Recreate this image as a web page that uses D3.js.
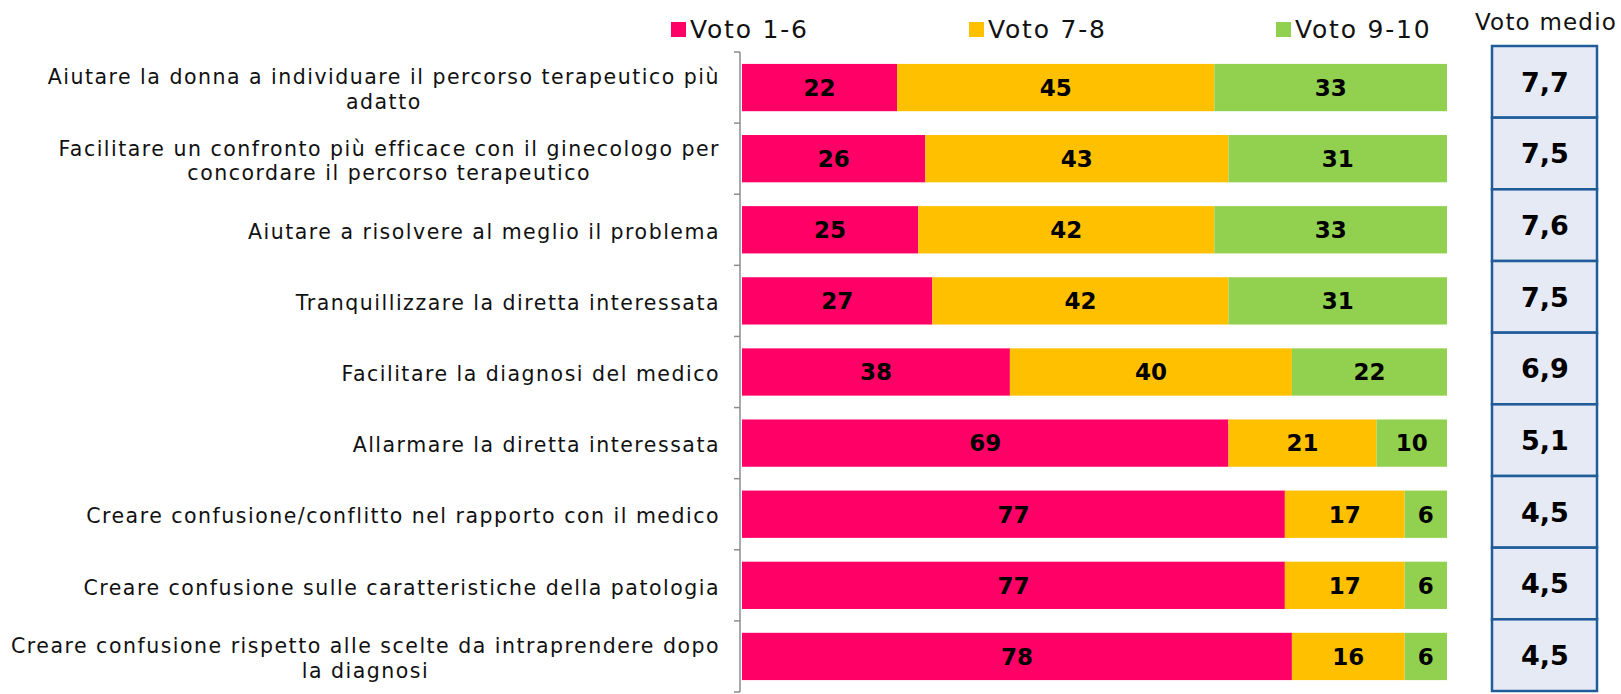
<!DOCTYPE html>
<html><head><meta charset="utf-8">
<script src="https://cdn.jsdelivr.net/npm/d3@7"></script>
<style>body{margin:0;background:#fff}</style>
</head><body>
<svg id="c" width="1621" height="694"></svg>
<script>
const categories = [
  ["Aiutare la donna a individuare il percorso terapeutico più","adatto"],
  ["Facilitare un confronto più efficace con il ginecologo per","concordare il percorso terapeutico"],
  ["Aiutare a risolvere al meglio il problema"],
  ["Tranquillizzare la diretta interessata"],
  ["Facilitare la diagnosi del medico"],
  ["Allarmare la diretta interessata"],
  ["Creare confusione/conflitto nel rapporto con il medico"],
  ["Creare confusione sulle caratteristiche della patologia"],
  ["Creare confusione rispetto alle scelte da intraprendere dopo","la diagnosi"]
];
const seriesNames = ["Voto 1-6","Voto 7-8","Voto 9-10"];
const voto16  = [22,26,25,27,38,69,77,77,78];
const voto78  = [45,43,42,42,40,21,17,17,16];
const voto910 = [33,31,33,31,22,10,6,6,6];
const votoMedio = ["7,7","7,5","7,6","7,5","6,9","5,1","4,5","4,5","4,5"];
const colors = ["#FF0066","#FFC000","#92D050"];

const svg = d3.select("#c");
const font = "DejaVu Sans";
const idx = d3.range(categories.length);
const rows = idx.map(i => ({i, v:[voto16[i], voto78[i], voto910[i]]}));
const stack = d3.stack().keys([0,1,2]).value((d,k)=>d.v[k])(rows);

const x = d3.scaleLinear().domain([0,100]).range([742,1447]);
const y = d3.scaleBand().domain(idx).range([52,692]).paddingInner(0.335).paddingOuter(0.1675);
const yBox = d3.scaleBand().domain(idx).range([46,691]);

// axis
const axis = d3.axisLeft(y).tickSize(0).tickFormat("");
const ag = svg.append("g").attr("transform","translate(740,0)").call(axis);
ag.select(".domain").attr("stroke","#8c8c8c").attr("stroke-width",1.5).attr("d","M0,52V692");
const bounds = d3.range(categories.length+1).map(k => 52 + k*(640/categories.length));
svg.append("g").selectAll("line").data(bounds).join("line")
  .attr("x1",734).attr("x2",740).attr("y1",d=>d).attr("y2",d=>d)
  .attr("stroke","#8c8c8c").attr("stroke-width",1.5);

// bars
const layers = svg.append("g").selectAll("g").data(stack).join("g").attr("fill",(d,k)=>colors[k]);
layers.selectAll("rect").data(d=>d).join("rect")
  .attr("x",d=>x(d[0])).attr("width",d=>x(d[1])-x(d[0]))
  .attr("y",d=>y(d.data.i)).attr("height",y.bandwidth());
layers.selectAll("text").data(d=>d).join("text")
  .attr("x",d=>(x(d[0])+x(d[1]))/2).attr("y",d=>y(d.data.i)+y.bandwidth()/2)
  .attr("dy","0.36em").attr("text-anchor","middle")
  .attr("font-family",font).attr("font-weight","bold").attr("font-size",23).attr("fill","#000")
  .text(d=>d[1]-d[0]);

// category labels
const lg = svg.append("g");
categories.forEach((lines,i)=>{
  const t = lg.append("text").attr("font-family",font).attr("font-size",20.5)
    .attr("letter-spacing",1.5).attr("fill","#111").attr("text-anchor","middle");
  const cy = y(i)+y.bandwidth()/2 + 2;
  const lh = 24.5;
  const y0 = cy - (lines.length-1)*lh/2;
  const sp = lines.map((l,j)=>t.append("tspan").attr("y",y0+j*lh).attr("dy","0.35em").text(l));
  const w = d3.max(sp, s=>s.node().getComputedTextLength());
  sp.forEach(s=>s.attr("x",720 - w/2));
});

// legend
const legX = [671,969,1276];
const leg = svg.append("g").selectAll("g").data(seriesNames).join("g")
  .attr("transform",(d,k)=>`translate(${legX[k]},0)`);
leg.append("rect").attr("x",0).attr("y",22).attr("width",15).attr("height",15).attr("fill",(d,k)=>colors[k]);
leg.append("text").attr("x",19).attr("y",38).attr("font-family",font).attr("font-size",25)
  .attr("letter-spacing",1.8).attr("fill","#111").text(d=>d);

// voto medio box
svg.append("text").attr("x",1546).attr("y",30).attr("text-anchor","middle")
  .attr("font-family",font).attr("font-size",23).attr("letter-spacing",1.2).attr("fill","#111").text("Voto medio");
const bg = svg.append("g");
bg.selectAll("rect").data(idx).join("rect")
  .attr("x",1492).attr("width",105).attr("y",d=>yBox(d)).attr("height",yBox.bandwidth())
  .attr("fill","#E6EAF5").attr("stroke","#1F5C99").attr("stroke-width",2.5);
bg.selectAll("text").data(idx).join("text")
  .attr("x",1545).attr("y",d=>yBox(d)+yBox.bandwidth()/2).attr("dy","0.36em").attr("text-anchor","middle")
  .attr("font-family",font).attr("font-weight","bold").attr("font-size",27).attr("fill","#000")
  .text(d=>votoMedio[d]);
</script>
</body></html>
